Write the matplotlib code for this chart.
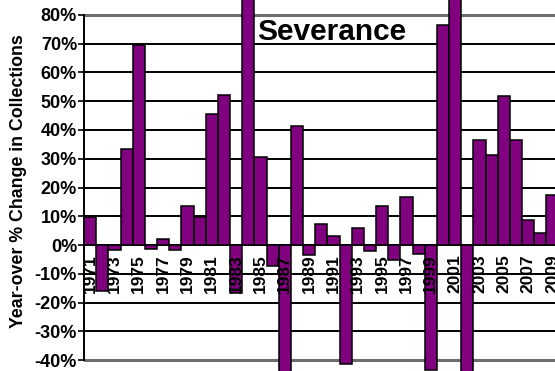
import matplotlib
matplotlib.use("Agg")
import matplotlib.pyplot as plt
import numpy as np

years = list(range(1971, 2010))
pct_change = [
    9.9, -16.0, -1.8, 33.3, 69.6, -1.5, 2.1, -1.6, 13.6, 9.9,
    45.5, 52.1, -16.6, 95.0, 30.5, -7.4, -50.0, 41.4, -3.5, 7.2,
    3.0, -41.5, 6.0, -2.1, 13.4, -5.1, 16.8, -3.1, -43.5, 76.4,
    110.0, -48.0, 36.5, 31.2, 51.9, 36.5, 8.6, 4.1, 17.5,
]
y_ticks = list(range(-40, 90, 10))
y_tick_labels = [f"{v}%" for v in y_ticks]
year_labels = [str(y) if y % 2 == 1 else "" for y in years]

plt.rcParams["font.family"] = ["Liberation Sans", "DejaVu Sans"]
plt.rcParams["font.weight"] = "bold"

W, H = 555, 371
fig = plt.figure(figsize=(W / 100, H / 100), dpi=100)
ax_left = 84 / W
ax_width = 474.6 / W
ax = fig.add_axes([ax_left, 0, ax_width, 1])
ax.set_xlim(years[0] - 0.5, years[-1] + 0.5)
ax.set_ylim(-43.8, 85.2)

# horizontal grid, outer lines grey and heavier
for v in y_ticks:
    if v in (-40, 80):
        ax.axhline(v, color="#6e6e6e", lw=2.2, zorder=0.5)
    else:
        ax.axhline(v, color="black", lw=1.4, zorder=0.5)

ax.bar(years, pct_change, width=1.0, color="#800080",
       edgecolor="black", linewidth=1.1, zorder=1)

for side in ("top", "right"):
    ax.spines[side].set_visible(False)
ax.spines["left"].set_bounds(-40, 80)
ax.spines["left"].set_linewidth(1.4)
ax.spines["bottom"].set_position(("data", 0))
ax.spines["bottom"].set_visible(False)

ax.set_yticks(y_ticks)
ax.set_yticklabels(y_tick_labels, fontsize=13, fontweight="heavy")
ax.tick_params(axis="y", length=4, width=1.2, pad=1)

ax.set_xticks(years)
ax.set_xticklabels(year_labels, rotation=90, fontsize=12.5,
                   fontweight="heavy", va="top")
ax.tick_params(axis="x", length=0, pad=6.5)

fig.text(332 / W, 1 - 32 / H, "Severance", fontsize=21.5,
         fontweight="heavy", ha="center", va="center")
fig.text(18.5 / W, 1 - 181.5 / H, "Year-over % Change in Collections",
         rotation=90, fontsize=12.8, fontweight="heavy",
         ha="center", va="center")

fig.savefig("out.png", dpi=100)
